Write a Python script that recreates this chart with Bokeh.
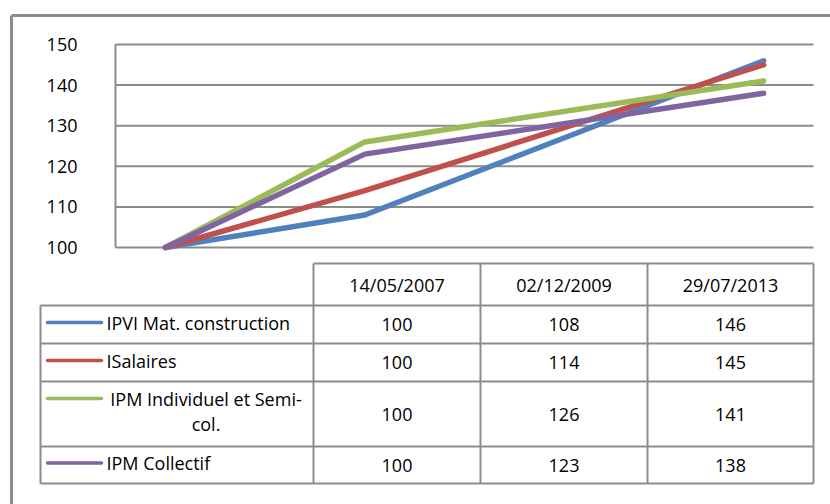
from bokeh.plotting import figure
from bokeh.models import Range1d, LinearAxis, FixedTicker, Grid
from bokeh.core.properties import value
from bokeh.embed import file_html
from bokeh.resources import INLINE

# --- data -------------------------------------------------------------
dates = ["14/05/2007", "02/12/2009", "29/07/2013"]
series_names = ["IPVI Mat. construction", "ISalaires",
                "IPM Individuel et Semi-\ncol.", "IPM Collectif"]
ipvi = [100, 108, 146]
isalaires = [100, 114, 145]
ipm_indiv = [100, 126, 141]
ipm_coll = [100, 123, 138]
y_ticks = [100, 110, 120, 130, 140, 150]

series = [ipvi, isalaires, ipm_indiv, ipm_coll]
colors = ["#4F81BD", "#C0504D", "#9BBB59", "#8064A2"]
years = [int(d[-4:]) for d in dates]

FONT = value("Open Sans")
GRID = "#8c8c8c"
W, H = 830, 504

# plot-area placement on the canvas (pixels)
PA_L, PA_R, PA_T, PA_B = 115, 813, 44, 247
yr0, yr1 = years[0] - 0.5, years[-1] + 0.5
v0, v1 = y_ticks[0], y_ticks[-1]
ppx = (PA_R - PA_L) / (yr1 - yr0)
ppy = (PA_B - PA_T) / (v1 - v0)

p = figure(width=W, height=H, output_backend="svg", toolbar_location=None,
           x_range=Range1d(yr0 - PA_L / ppx, yr1 + (W - PA_R) / ppx),
           y_range=Range1d(v0 - (H - PA_B) / ppy, v1 + PA_T / ppy),
           x_axis_location=None, y_axis_location=None,
           min_border=0, outline_line_color=None)
p.center = [r for r in p.center if not isinstance(r, Grid)]
p.extra_x_ranges = {"px": Range1d(0, W)}
p.extra_y_ranges = {"py": Range1d(H, 0)}
p.background_fill_color = "white"
p.border_fill_color = "white"

# outer chart border (left and top edges visible)
p.multi_line(xs=[[11, 11], [11, W]], ys=[[H, 15], [15, 15]],
             line_color=GRID, line_width=3,
             x_range_name="px", y_range_name="py")

# horizontal gridlines
p.segment(x0=yr0, x1=yr1, y0=y_ticks, y1=y_ticks,
          line_color=GRID, line_width=2)

# value axis drawn at the plot-area edge
yaxis = LinearAxis(fixed_location=yr0, bounds=(v0, v1),
                   ticker=FixedTicker(ticks=y_ticks))
yaxis.axis_line_color = GRID
yaxis.axis_line_width = 2
yaxis.major_tick_out = 0
yaxis.major_tick_in = 0
yaxis.minor_tick_out = 0
yaxis.minor_tick_in = 0
yaxis.major_label_standoff = 38
yaxis.major_label_text_font = "Open Sans"
yaxis.major_label_text_font_size = "18px"
yaxis.major_label_text_color = "#000000"
p.add_layout(yaxis, "left")

# series lines
for vals, c in zip(series, colors):
    p.line(years, vals, line_color=c, line_width=5.5,
           line_cap="round", line_join="round")

# --- data table below the chart ---------------------------------------
col_edges = [313, 480, 647, 813]
row_edges = [263, 305, 343, 381, 446, 483]
leg_left = 40
tk = dict(x_range_name="px", y_range_name="py")

hx0, hx1, hy0 = [col_edges[0]], [col_edges[-1]], [row_edges[0]]
for r in row_edges[1:]:
    hx0.append(leg_left); hx1.append(col_edges[-1]); hy0.append(r)
p.segment(x0=hx0, x1=hx1, y0=hy0, y1=hy0, line_color=GRID, line_width=2, **tk)
p.segment(x0=col_edges, x1=col_edges, y0=row_edges[0], y1=row_edges[-1],
          line_color=GRID, line_width=2, **tk)
p.segment(x0=leg_left, x1=leg_left, y0=row_edges[1], y1=row_edges[-1],
          line_color=GRID, line_width=2, **tk)

centers_x = [(a + b) / 2 for a, b in zip(col_edges[:-1], col_edges[1:])]
centers_y = [(a + b) / 2 for a, b in zip(row_edges[:-1], row_edges[1:])]

# header (dates)
p.text(x=centers_x, y=[centers_y[0]] * len(dates), text=dates,
       text_font=FONT, text_font_size="18px", text_color="#000000",
       text_align="center", text_baseline="middle", **tk)

# values
vx, vy, vt = [], [], []
for i, vals in enumerate(series):
    for j, v in enumerate(vals):
        vx.append(centers_x[j]); vy.append(centers_y[i + 1]); vt.append(str(v))
p.text(x=vx, y=vy, text=vt, text_font=FONT, text_font_size="18px",
       text_color="#000000", text_align="center", text_baseline="middle", **tk)

# legend keys and series names
key_y, lx, ly, lt, la = [], [], [], [], []
for i, name in enumerate(series_names):
    parts = name.split("\n")
    top = row_edges[i + 1]
    y_first = centers_y[i + 1] - 2 if len(parts) == 1 else top + 17
    key_y.append(y_first)
    for k, part in enumerate(parts):
        ly.append(y_first + 25 * k)
        lt.append(part)
        if len(parts) == 1:
            lx.append(106); la.append("left")
        else:
            lx.append(205.5); la.append("center")
p.segment(x0=47, x1=101, y0=key_y, y1=key_y, line_color=colors,
          line_width=3.5, line_cap="round", **tk)
p.text(x=lx, y=ly, text=lt, text_align=la, text_font=FONT,
       text_font_size="18px", text_color="#000000", text_baseline="middle",
       **tk)

open("out.html", "w").write(file_html(p, INLINE))
